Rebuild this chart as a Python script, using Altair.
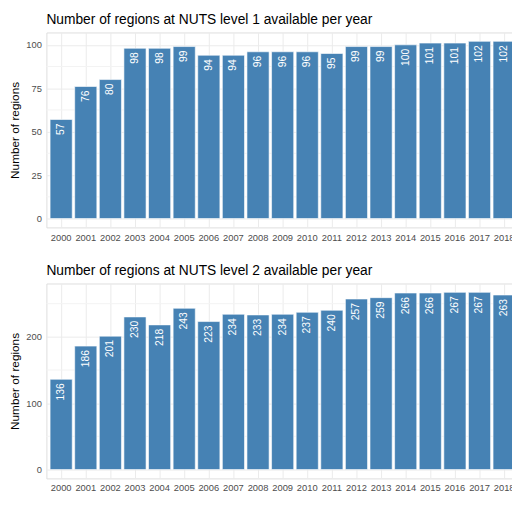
import altair as alt
import pandas as pd

years = [str(y) for y in range(2000, 2019)]
nuts1 = [57, 76, 80, 98, 98, 99, 94, 94, 96, 96, 96, 95, 99, 99, 100, 101, 101, 102, 102]
nuts2 = [136, 186, 201, 230, 218, 243, 223, 234, 233, 234, 237, 240, 257, 259, 266, 266, 267, 267, 263]

titles = ["Number of regions at NUTS level 1 available per year",
          "Number of regions at NUTS level 2 available per year"]
major1 = [0, 25, 50, 75, 100]
minor1 = [12.5, 37.5, 62.5, 87.5]
major2 = [0, 100, 200]
minor2 = [50, 150, 250]

FONT = "Liberation Sans"
BAR = "#4682B4"


def panel(values, title, major, minor, height, xpad):
    df = pd.DataFrame({"year": years, "n": values})
    vmax = max(values)
    dom = [-0.05 * vmax, 1.05 * vmax]
    x = alt.X("year:N", title=None, sort=years,
              scale=alt.Scale(paddingInner=0.1, paddingOuter=0.15),
              axis=alt.Axis(labelAngle=0, ticks=False, domain=False, grid=True,
                            bandPosition=0.5, gridColor="#ebebeb", gridWidth=1,
                            labelColor="#4d4d4d", labelFontSize=9.5, labelFont=FONT,
                            labelPadding=xpad))
    yscale = alt.Scale(domain=dom, nice=False, zero=False)
    y = alt.Y("n:Q", title="Number of regions", scale=yscale,
              axis=alt.Axis(values=major, ticks=False, domain=False, grid=True,
                            gridColor="#ebebeb", gridWidth=1,
                            labelColor="#4d4d4d", labelFontSize=9.5, labelFont=FONT,
                            labelPadding=5, titleFont=FONT, titleFontSize=12,
                            titleFontWeight="normal", titleColor="#000000",
                            titlePadding=4))
    mdf = pd.DataFrame({"m": minor})
    minor_rules = alt.Chart(mdf).mark_rule(color="#f3f3f3", strokeWidth=1).encode(
        y=alt.Y("m:Q", scale=yscale))
    base = alt.Chart(df)
    bars = base.mark_bar(color=BAR, stroke="#ffffff", strokeWidth=0.6).encode(
        x=x, y=y, y2=alt.datum(0))
    labels = base.mark_text(angle=270, align="right", baseline="middle", dx=-4,
                            color="white", fontSize=10.5, font=FONT).encode(
        x=alt.X("year:N", sort=years), y=alt.Y("n:Q", scale=yscale),
        text="n:Q")
    return alt.layer(minor_rules, bars, labels).properties(
        width=480, height=height,
        title=alt.TitleParams(title, anchor="start", frame="group", font=FONT,
                              fontSize=14, fontWeight="normal", color="#000000",
                              offset=6))


top = panel(nuts1, titles[0], major1, minor1, 198, 5)
bottom = panel(nuts2, titles[1], major2, minor2, 198, 4)

chart = alt.vconcat(top, bottom, spacing=21).properties(
    padding={"left": 0, "top": 0, "right": -8, "bottom": 0}
).configure_view(stroke=None).configure(background="white")

chart.save("out.html", embed_options={"renderer": "svg", "actions": False})
